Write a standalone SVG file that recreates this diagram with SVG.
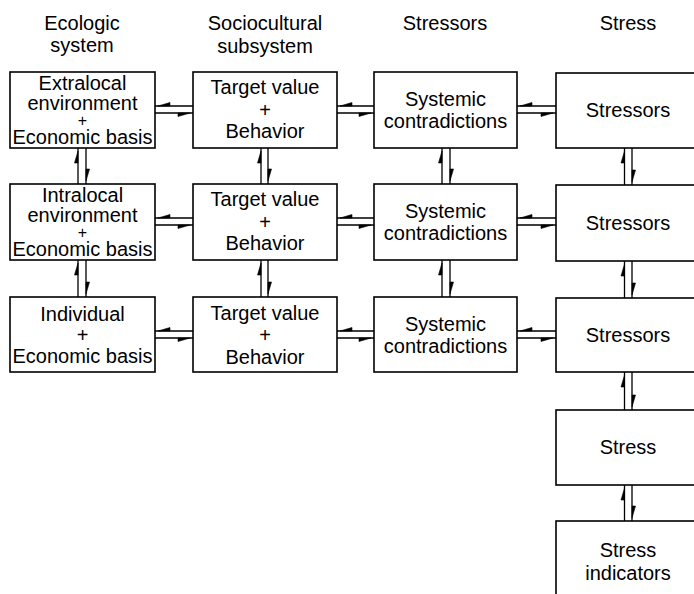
<svg xmlns="http://www.w3.org/2000/svg" width="694" height="594" viewBox="0 0 694 594">
  <style>
    .box { fill: #fff; stroke: #000; stroke-width: 1.6; }
    .t { font-family: "Liberation Sans", Arial, sans-serif; font-size: 20px; fill: #000; text-anchor: middle; }
    .plus { font-size: 16px; }
    .ln { stroke: #000; stroke-width: 1.3; fill: none; }
    .barb { fill: #000; stroke: #000; stroke-width: 0.6; stroke-linejoin: round; }
  </style>
  <rect width="694" height="594" fill="#fff"/>

  <!-- column headings -->
  <g id="headings">
    <text class="t" x="82" y="30">Ecologic</text>
    <text class="t" x="82" y="52">system</text>
    <text class="t" x="265" y="30">Sociocultural</text>
    <text class="t" x="265" y="53">subsystem</text>
    <text class="t" x="445" y="30">Stressors</text>
    <text class="t" x="628" y="30">Stress</text>
  </g>

  <!-- connectors: paired opposite half-arrows -->
  <g id="connectors">
    <!-- horizontal pairs -->
    <path class="ln" d="M155 106H193M155 113H193M337 106H374M337 113H374M517 106H556M517 113H556"/>
    <path class="ln" d="M155 218H193M155 225H193M337 218H374M337 225H374M517 218H556M517 225H556"/>
    <path class="ln" d="M155 331H193M155 338H193M337 331H374M337 338H374M517 331H556M517 338H556"/>
    <path class="barb" d="M158 106L170 102.5L170 106ZM190 113L178 116.5L178 113Z
      M340 106L352 102.5L352 106ZM371 113L359 116.5L359 113Z
      M520 106L532 102.5L532 106ZM553 113L541 116.5L541 113Z"/>
    <path class="barb" d="M158 218L170 214.5L170 218ZM190 225L178 228.5L178 225Z
      M340 218L352 214.5L352 218ZM371 225L359 228.5L359 225Z
      M520 218L532 214.5L532 218ZM553 225L541 228.5L541 225Z"/>
    <path class="barb" d="M158 331L170 327.5L170 331ZM190 338L178 341.5L178 338Z
      M340 331L352 327.5L352 331ZM371 338L359 341.5L359 338Z
      M520 331L532 327.5L532 331ZM553 338L541 341.5L541 338Z"/>

    <!-- vertical pairs -->
    <path class="ln" d="M78 148V184M86 148V184M261 148V184M268 148V184M442 148V184M450 148V184M624.5 148V185M632 148V185"/>
    <path class="ln" d="M78 260V297M86 260V297M261 260V297M268 260V297M442 260V297M450 260V297M624.5 261V298M632 261V298"/>
    <path class="ln" d="M624.5 372V410M632 372V410M624.5 485V521M632 485V521"/>
    <path class="barb" d="M78 151L74.5 163L78 163ZM86 181L89.5 169L86 169Z
      M261 151L257.5 163L261 163ZM268 181L271.5 169L268 169Z
      M442 151L438.5 163L442 163ZM450 181L453.5 169L450 169Z
      M624.5 151L621 163L624.5 163ZM632 182L635.5 170L632 170Z"/>
    <path class="barb" d="M78 263L74.5 275L78 275ZM86 294L89.5 282L86 282Z
      M261 263L257.5 275L261 275ZM268 294L271.5 282L268 282Z
      M442 263L438.5 275L442 275ZM450 294L453.5 282L450 282Z
      M624.5 264L621 276L624.5 276ZM632 295L635.5 283L632 283Z"/>
    <path class="barb" d="M624.5 375L621 387L624.5 387ZM632 407L635.5 395L632 395Z
      M624.5 488L621 500L624.5 500ZM632 518L635.5 506L632 506Z"/>
  </g>

  <!-- ecologic system column -->
  <g id="eco-extralocal">
    <rect class="box" x="10" y="72" width="145" height="76"/>
    <text class="t" x="82.5" y="90">Extralocal</text>
    <text class="t" x="82.5" y="110">environment</text>
    <text class="t plus" x="82.5" y="126">+</text>
    <text class="t" x="82.5" y="144">Economic basis</text>
  </g>
  <g id="eco-intralocal">
    <rect class="box" x="10" y="184" width="145" height="76"/>
    <text class="t" x="82.5" y="202">Intralocal</text>
    <text class="t" x="82.5" y="222">environment</text>
    <text class="t plus" x="82.5" y="238">+</text>
    <text class="t" x="82.5" y="256">Economic basis</text>
  </g>
  <g id="eco-individual">
    <rect class="box" x="10" y="297" width="145" height="75"/>
    <text class="t" x="82.5" y="321">Individual</text>
    <text class="t" x="82.5" y="342">+</text>
    <text class="t" x="82.5" y="363">Economic basis</text>
  </g>

  <!-- sociocultural subsystem column -->
  <g id="socio-1">
    <rect class="box" x="193" y="72" width="144" height="76"/>
    <text class="t" x="265" y="94">Target value</text>
    <text class="t" x="265" y="117">+</text>
    <text class="t" x="265" y="138">Behavior</text>
  </g>
  <g id="socio-2">
    <rect class="box" x="193" y="184" width="144" height="76"/>
    <text class="t" x="265" y="206">Target value</text>
    <text class="t" x="265" y="229">+</text>
    <text class="t" x="265" y="250">Behavior</text>
  </g>
  <g id="socio-3">
    <rect class="box" x="193" y="297" width="144" height="75"/>
    <text class="t" x="265" y="320">Target value</text>
    <text class="t" x="265" y="342">+</text>
    <text class="t" x="265" y="364">Behavior</text>
  </g>

  <!-- stressors column -->
  <g id="contra-1">
    <rect class="box" x="374" y="72" width="143" height="76"/>
    <text class="t" x="445.5" y="106">Systemic</text>
    <text class="t" x="445.5" y="128">contradictions</text>
  </g>
  <g id="contra-2">
    <rect class="box" x="374" y="184" width="143" height="76"/>
    <text class="t" x="445.5" y="218">Systemic</text>
    <text class="t" x="445.5" y="240">contradictions</text>
  </g>
  <g id="contra-3">
    <rect class="box" x="374" y="297" width="143" height="75"/>
    <text class="t" x="445.5" y="331">Systemic</text>
    <text class="t" x="445.5" y="353">contradictions</text>
  </g>

  <!-- stress column -->
  <g id="stressors-1">
    <rect class="box" x="556" y="73" width="145" height="75"/>
    <text class="t" x="628" y="117">Stressors</text>
  </g>
  <g id="stressors-2">
    <rect class="box" x="556" y="185" width="145" height="76"/>
    <text class="t" x="628" y="230">Stressors</text>
  </g>
  <g id="stressors-3">
    <rect class="box" x="556" y="298" width="145" height="74"/>
    <text class="t" x="628" y="342">Stressors</text>
  </g>
  <g id="stress">
    <rect class="box" x="556" y="410" width="145" height="75"/>
    <text class="t" x="628" y="454">Stress</text>
  </g>
  <g id="stress-indicators">
    <rect class="box" x="556" y="521" width="145" height="80"/>
    <text class="t" x="628" y="557">Stress</text>
    <text class="t" x="628" y="580">indicators</text>
  </g>
</svg>
